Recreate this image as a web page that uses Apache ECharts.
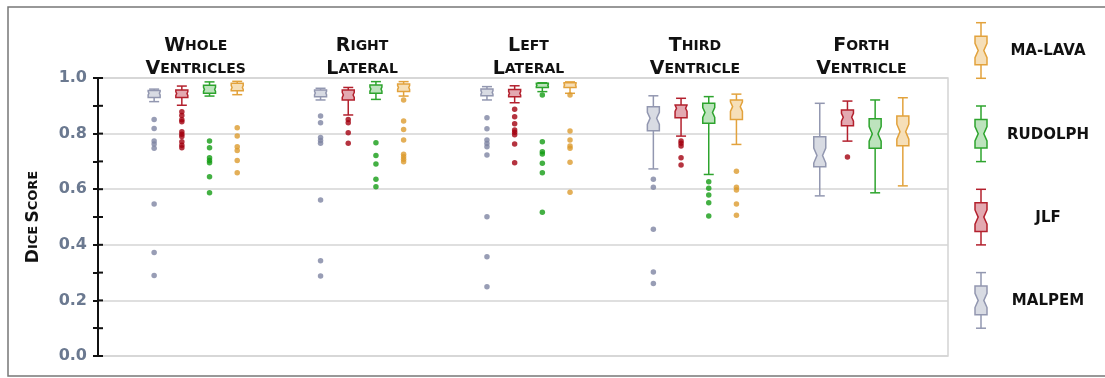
<!DOCTYPE html>
<html><head><meta charset="utf-8">
<script src="https://cdn.jsdelivr.net/npm/echarts@6/dist/echarts.min.js"></script>
<style>html,body{margin:0;padding:0;background:#fff}#c{width:1105px;height:378px}</style>
</head><body><div id="c"></div>
<script>
// ---------- data ----------
const categories = ['Whole Ventricles', 'Right Lateral', 'Left Lateral', 'Third Ventricle', 'Forth Ventricle'];
const methods = ['MALPEM', 'JLF', 'RUDOLPH', 'MA-LAVA'];
const yTicks = [0, 0.2, 0.4, 0.6, 0.8, 1.0];
const yAllTicks = [0, 0.1, 0.2, 0.3, 0.4, 0.5, 0.6, 0.7, 0.8, 0.9, 1.0];

// box stats per category: [lower whisker, q1, median, q3, upper whisker]
const malpemBox = [
  [0.915, 0.930, 0.945, 0.955, 0.960],
  [0.921, 0.933, 0.946, 0.957, 0.963],
  [0.921, 0.936, 0.948, 0.960, 0.969],
  [0.673, 0.810, 0.855, 0.897, 0.936],
  [0.576, 0.681, 0.721, 0.789, 0.909]
];
const jlfBox = [
  [0.902, 0.930, 0.944, 0.957, 0.971],
  [0.867, 0.921, 0.939, 0.957, 0.966],
  [0.911, 0.933, 0.945, 0.959, 0.972],
  [0.791, 0.857, 0.891, 0.903, 0.927],
  [0.773, 0.828, 0.859, 0.885, 0.917]
];
const rudolphBox = [
  [0.935, 0.945, 0.959, 0.974, 0.986],
  [0.923, 0.945, 0.960, 0.975, 0.987],
  [0.951, 0.966, 0.974, 0.981, 0.983],
  [0.653, 0.837, 0.876, 0.909, 0.933],
  [0.587, 0.747, 0.799, 0.853, 0.921]
];
const malavaBox = [
  [0.940, 0.954, 0.966, 0.981, 0.988],
  [0.935, 0.951, 0.966, 0.978, 0.987],
  [0.945, 0.966, 0.975, 0.983, 0.986],
  [0.761, 0.851, 0.897, 0.921, 0.942],
  [0.612, 0.756, 0.807, 0.863, 0.929]
];

// outliers per category
const malpemOut = [
  [0.851, 0.818, 0.773, 0.763, 0.747, 0.547, 0.372, 0.290],
  [0.863, 0.839, 0.786, 0.775, 0.765, 0.561, 0.343, 0.288],
  [0.857, 0.817, 0.777, 0.764, 0.753, 0.723, 0.501, 0.357, 0.249],
  [0.636, 0.607, 0.456, 0.302, 0.261],
  []
];
const jlfOut = [
  [0.879, 0.865, 0.850, 0.843, 0.807, 0.798, 0.790, 0.771, 0.758, 0.749],
  [0.851, 0.839, 0.803, 0.765],
  [0.888, 0.861, 0.835, 0.813, 0.805, 0.796, 0.763, 0.695],
  [0.773, 0.765, 0.755, 0.713, 0.687],
  [0.716]
];
const rudolphOut = [
  [0.773, 0.749, 0.713, 0.703, 0.695, 0.645, 0.587],
  [0.767, 0.721, 0.691, 0.636, 0.609],
  [0.939, 0.771, 0.735, 0.727, 0.693, 0.659, 0.517],
  [0.627, 0.603, 0.579, 0.551, 0.504],
  []
];
const malavaOut = [
  [0.821, 0.791, 0.753, 0.739, 0.703, 0.659],
  [0.921, 0.845, 0.815, 0.777, 0.726, 0.717, 0.708, 0.699],
  [0.939, 0.809, 0.777, 0.755, 0.747, 0.697, 0.589],
  [0.665, 0.607, 0.597, 0.547, 0.506],
  []
];

// ---------- styling ----------
const boxes = [malpemBox, jlfBox, rudolphBox, malavaBox];
const outs = [malpemOut, jlfOut, rudolphOut, malavaOut];
const strokes = ['#9297b0', '#b3202d', '#2ea42e', '#e2a23c'];
const fills = ['#d8dbe3', '#e3a9b1', '#bde3bd', '#f6dfb8'];
const dots = ['#7e85a2', '#a3000f', '#149c14', '#dc9b2e'];
const offsets = [-0.2496, -0.0832, 0.0832, 0.2496];
const FONT = 'DejaVu Sans';
const XMIN = -0.587, XMAX = 4.521;

function glyph(cx, hi, q3, md, q1, lo, stroke, fill) {
  const hw = 6, cw = 5;
  const notch = (q1 - q3) * 0.25;
  const nHi = Math.max(q3, md - notch), nLo = Math.min(q1, md + notch);
  const depth = Math.min(3.2, Math.max(0.6, notch * 0.45));
  const inW = hw - depth;
  const ls = {stroke: stroke, lineWidth: 1.5};
  return [
    {type: 'line', shape: {x1: cx, y1: hi, x2: cx, y2: q3}, style: ls},
    {type: 'line', shape: {x1: cx, y1: q1, x2: cx, y2: lo}, style: ls},
    {type: 'line', shape: {x1: cx - cw, y1: hi, x2: cx + cw, y2: hi}, style: ls},
    {type: 'line', shape: {x1: cx - cw, y1: lo, x2: cx + cw, y2: lo}, style: ls},
    {type: 'polygon', shape: {points: [
      [cx - hw, q3], [cx + hw, q3], [cx + hw, nHi], [cx + inW, md], [cx + hw, nLo],
      [cx + hw, q1], [cx - hw, q1], [cx - hw, nLo], [cx - inW, md], [cx - hw, nHi]
    ]}, style: {fill: fill, stroke: stroke, lineWidth: 1.5}}
  ];
}

function boxRender(si) {
  return function (params, api) {
    const x = api.value(0) + offsets[si];
    const p = [1, 2, 3, 4, 5].map(i => api.coord([x, api.value(i)]));
    return {type: 'group', children: glyph(p[0][0], p[4][1], p[3][1], p[2][1], p[1][1], p[0][1], strokes[si], fills[si])};
  };
}

function smallCaps(text) {
  return text.split(' ').map(w => '{b|' + w[0].toUpperCase() + '}{s|' + w.slice(1).toUpperCase() + '}').join('\n');
}

const series = [];
methods.forEach((m, si) => {
  series.push({
    name: m, type: 'custom', xAxisIndex: 0, yAxisIndex: 0,
    renderItem: boxRender(si),
    encode: {x: 0, y: [1, 2, 3, 4, 5]},
    data: boxes[si].map((b, ci) => [ci].concat(b)),
    z: 3
  });
  const pts = [];
  outs[si].forEach((arr, ci) => arr.forEach(v => pts.push([ci + offsets[si], v])));
  series.push({
    name: m + ' outliers', type: 'scatter', xAxisIndex: 0, yAxisIndex: 0,
    symbolSize: 5.5, itemStyle: {color: dots[si]}, data: pts, z: 4
  });
});
// inner half of the crossing y-axis ticks
series.push({
  name: 'axis ticks', type: 'custom', xAxisIndex: 0, yAxisIndex: 0, clip: false, silent: true, z: 5,
  encode: {x: 0, y: 1},
  data: yAllTicks.map(v => [XMIN, v]),
  renderItem: function (params, api) {
    const p = api.coord([api.value(0), api.value(1)]);
    return {type: 'line', shape: {x1: p[0], y1: p[1], x2: p[0] + 5, y2: p[1]}, style: {stroke: '#111', lineWidth: 2}};
  }
});

// legend built from methods (top to bottom: reverse order)
const legendEls = [];
methods.slice().reverse().forEach((m, k) => {
  const si = methods.length - 1 - k;
  const cy = 50.5 + k * 83.3;
  legendEls.push({type: 'group', children: glyph(981, cy - 27.8, cy - 14.3, cy, cy + 14.3, cy + 27.8, strokes[si], fills[si])});
  legendEls.push({type: 'text', x: 1048, y: cy + 1, style: {text: m, font: 'bold 15px "' + FONT + '"', fill: '#111', align: 'center', verticalAlign: 'middle'}});
});
legendEls.push({type: 'rect', shape: {x: 8, y: 7, width: 1200, height: 369}, style: {fill: 'none', stroke: '#777', lineWidth: 1.5}, silent: true});

const chart = echarts.init(document.getElementById('c'), null, {renderer: 'canvas'});
chart.setOption({
  animation: false,
  backgroundColor: '#fff',
  grid: {left: 98, right: 157, top: 78, bottom: 22, show: true, borderColor: '#d4d4d4', borderWidth: 1.5, backgroundColor: 'transparent'},
  xAxis: [
    {type: 'value', min: XMIN, max: XMAX, position: 'bottom', axisLine: {show: false, onZero: false}, axisTick: {show: false}, axisLabel: {show: false}, splitLine: {show: false}},
    {type: 'value', min: XMIN, max: XMAX, position: 'top', axisLine: {show: false, onZero: false}, axisTick: {show: false}, splitLine: {show: false},
      axisLabel: {customValues: categories.map((c, i) => i), margin: -3,
        formatter: v => smallCaps(categories[Math.round(v)]),
        rich: {
          b: {fontSize: 19, fontWeight: 'bold', fontFamily: FONT, color: '#111', lineHeight: 23},
          s: {fontSize: 14, fontWeight: 'bold', fontFamily: FONT, color: '#111', lineHeight: 23}
        }}}
  ],
  yAxis: [
    {type: 'value', min: 0, max: 1, interval: 0.2, position: 'left',
      axisLine: {show: true, onZero: false, lineStyle: {color: '#111', width: 2}},
      axisTick: {show: true, length: 5, lineStyle: {color: '#111', width: 2}},
      minorTick: {show: true, splitNumber: 2, length: 5, lineStyle: {color: '#111', width: 2}},
      axisLabel: {customValues: yTicks, margin: 11, formatter: v => v.toFixed(1), color: '#6b7990', fontSize: 16, fontWeight: 'bold', fontFamily: FONT},
      splitLine: {show: true, lineStyle: {color: '#d4d4d4', width: 1.5}},
      name: '{b|D}{s|ICE} {b|S}{s|CORE}', nameLocation: 'middle', nameRotate: 90, nameGap: 56,
      nameTextStyle: {rich: {
        b: {fontSize: 17, fontWeight: 'bold', fontFamily: FONT, color: '#111'},
        s: {fontSize: 13, fontWeight: 'bold', fontFamily: FONT, color: '#111'}
      }}}
  ],
  graphic: legendEls,
  series: series
});
</script>
</body></html>
